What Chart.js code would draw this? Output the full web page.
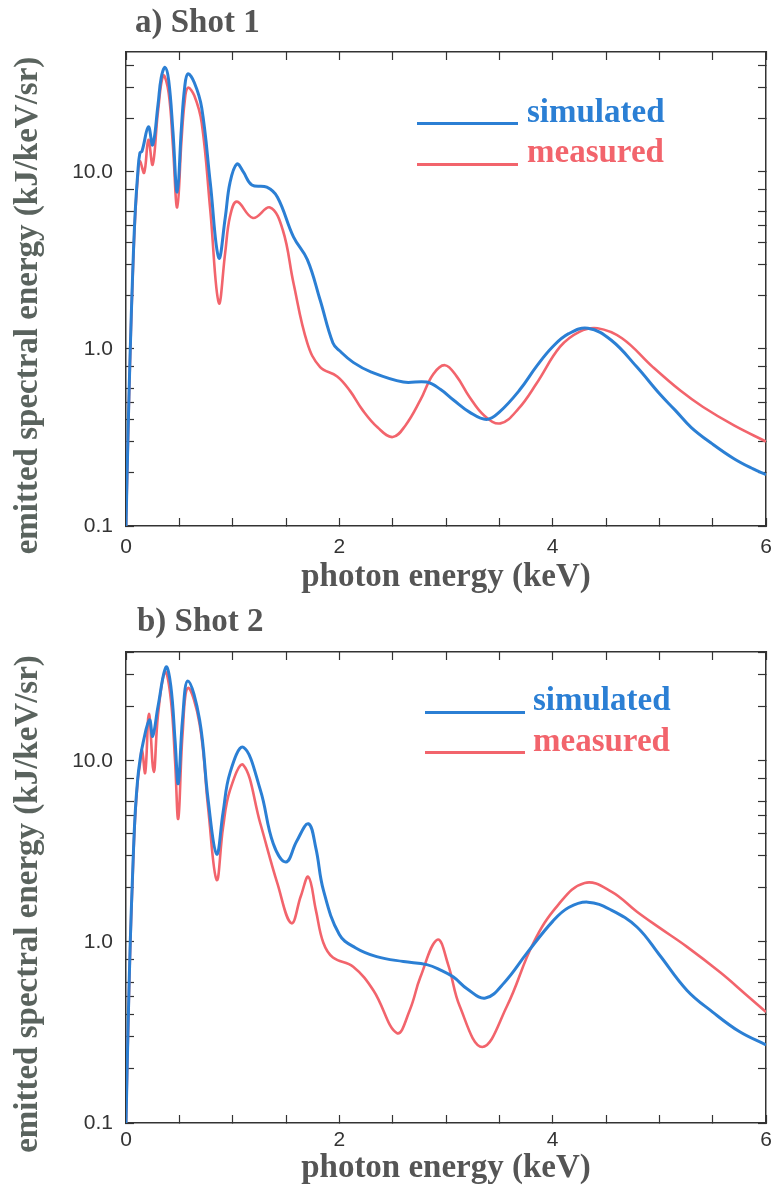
<!DOCTYPE html>
<html>
<head>
<meta charset="utf-8">
<script src="https://cdn.jsdelivr.net/npm/chart.js@4.4.1/dist/chart.umd.min.js"></script>
<style>
  body { margin: 0; background: #fff; }
  #page { position: relative; width: 777px; height: 1192px; overflow: hidden; background: #fff; }
  .box { position: absolute; left: 0; width: 777px; }
  .title { position: absolute; font: bold 33px "Liberation Serif", serif; line-height: 33px; color: #555; white-space: nowrap; }
  .key { position: absolute; font: bold 33px "Liberation Serif", serif; line-height: 33px; white-space: nowrap; }
  .keyline { position: absolute; height: 3px; }
</style>
</head>
<body>
<div id="page">
  <div class="box" style="top:0;height:601px"><canvas id="shot1"></canvas></div>
  <div class="box" style="top:601px;height:591px"><canvas id="shot2"></canvas></div>

  <div class="title" style="left:135px;top:5px">a) Shot 1</div>
  <div class="keyline" style="left:417px;top:122px;width:101px;background:#2b7fd4"></div>
  <div class="key" style="left:527px;top:95px;color:#2b7fd4">simulated</div>
  <div class="keyline" style="left:417px;top:163px;width:101px;background:#f2646c"></div>
  <div class="key" style="left:527px;top:135px;color:#f2646c">measured</div>

  <div class="title" style="left:137px;top:604px">b) Shot 2</div>
  <div class="keyline" style="left:425px;top:711px;width:100px;background:#2b7fd4"></div>
  <div class="key" style="left:533px;top:683px;color:#2b7fd4">simulated</div>
  <div class="keyline" style="left:425px;top:751px;width:100px;background:#f2646c"></div>
  <div class="key" style="left:533px;top:724px;color:#f2646c">measured</div>
</div>
<script>
// photon energy (keV) and emitted spectral energy (kJ/keV/sr)
const shot1SimEnergy = [0, 0.02, 0.04, 0.06, 0.084, 0.11, 0.13, 0.15, 0.21, 0.25, 0.3, 0.33, 0.366, 0.4, 0.44, 0.48, 0.52, 0.55, 0.58, 0.64, 0.71, 0.79, 0.87, 0.93, 0.975, 1.04, 1.1, 1.18, 1.32, 1.42, 1.57, 1.7, 1.82, 1.94, 2.0, 2.13, 2.3, 2.6, 2.82, 2.95, 3.07, 3.22, 3.38, 3.5, 3.69, 3.85, 4.0, 4.15, 4.33, 4.55, 4.79, 5.0, 5.15, 5.3, 5.5, 5.7, 5.88, 6.0];
const shot1SimValue = [0.1, 0.35, 1.0, 2.4, 5.6, 9.8, 12.8, 13.1, 18, 14.2, 24, 34, 39, 33, 17, 7.7, 18, 30, 35.8, 32, 23, 8.7, 3.27, 5.5, 8.7, 11.1, 10.0, 8.45, 8.2, 7.2, 4.3, 3.2, 1.89, 1.08, 0.98, 0.84, 0.74, 0.65, 0.65, 0.59, 0.515, 0.44, 0.40, 0.44, 0.586, 0.8, 1.03, 1.22, 1.31, 1.12, 0.79, 0.56, 0.45, 0.36, 0.29, 0.24, 0.21, 0.195];

const shot1MeasEnergy = [0, 0.02, 0.04, 0.06, 0.084, 0.11, 0.13, 0.17, 0.21, 0.25, 0.3, 0.35, 0.4, 0.44, 0.48, 0.52, 0.55, 0.58, 0.64, 0.71, 0.79, 0.87, 0.93, 0.975, 1.04, 1.19, 1.35, 1.47, 1.57, 1.7, 1.82, 1.98, 2.1, 2.22, 2.36, 2.5, 2.62, 2.76, 2.88, 2.99, 3.1, 3.22, 3.36, 3.51, 3.68, 3.85, 4.07, 4.25, 4.42, 4.65, 4.94, 5.2, 5.41, 5.7, 6.0];
const shot1MeasValue = [0.1, 0.33, 0.95, 2.3, 5.3, 9.3, 11.5, 9.9, 15.2, 11, 22, 35, 28, 14, 6.3, 15, 25, 29.9, 27, 18.9, 6.1, 1.82, 3.5, 5.6, 6.8, 5.5, 6.3, 4.7, 2.36, 1.08, 0.79, 0.70, 0.58, 0.45, 0.36, 0.318, 0.37, 0.515, 0.72, 0.81, 0.7, 0.536, 0.42, 0.38, 0.46, 0.64, 1.03, 1.25, 1.31, 1.15, 0.79, 0.58, 0.47, 0.37, 0.30];

const shot2SimEnergy = [0, 0.02, 0.04, 0.06, 0.084, 0.11, 0.13, 0.16, 0.22, 0.25, 0.3, 0.375, 0.42, 0.46, 0.49, 0.53, 0.58, 0.69, 0.77, 0.85, 0.91, 0.975, 1.1, 1.26, 1.38, 1.5, 1.6, 1.71, 1.78, 1.85, 2.0, 2.15, 2.35, 2.6, 2.82, 2.95, 3.07, 3.2, 3.37, 3.55, 3.76, 4.0, 4.15, 4.33, 4.55, 4.79, 5.0, 5.26, 5.5, 5.75, 6.0];
const shot2SimValue = [0.1, 0.35, 1.0, 2.2, 4.9, 8, 10, 12.6, 16.9, 13.7, 20, 33, 26, 13, 7.5, 17, 27.7, 16.9, 6.1, 3.06, 5.2, 8.6, 11.9, 6.9, 3.5, 2.77, 3.6, 4.5, 3.3, 1.94, 1.1, 0.93, 0.83, 0.78, 0.75, 0.7, 0.64, 0.55, 0.49, 0.6, 0.87, 1.3, 1.55, 1.66, 1.5, 1.21, 0.85, 0.54, 0.41, 0.32, 0.27];

const shot2MeasEnergy = [0, 0.02, 0.04, 0.06, 0.084, 0.11, 0.13, 0.15, 0.18, 0.215, 0.26, 0.3, 0.366, 0.42, 0.46, 0.49, 0.53, 0.58, 0.69, 0.77, 0.85, 0.91, 0.975, 1.1, 1.26, 1.42, 1.55, 1.64, 1.71, 1.78, 1.85, 1.94, 2.13, 2.32, 2.54, 2.66, 2.76, 2.92, 3.02, 3.13, 3.34, 3.57, 3.82, 4.05, 4.3, 4.55, 4.79, 5.0, 5.26, 5.57, 5.8, 6.0];
const shot2MeasValue = [0.1, 0.33, 0.95, 2.1, 4.7, 7.8, 9.5, 11.5, 8.6, 18.2, 8.7, 18, 31, 22, 10, 4.8, 14, 25.3, 16, 5.5, 2.2, 4.3, 6.9, 9.5, 4.5, 2.1, 1.27, 1.8, 2.29, 1.5, 0.99, 0.82, 0.73, 0.54, 0.314, 0.42, 0.64, 1.03, 0.75, 0.44, 0.263, 0.44, 0.99, 1.6, 2.12, 1.9, 1.47, 1.2, 0.94, 0.68, 0.52, 0.41];

const xTicks = [0, 0.5, 1, 1.5, 2, 2.5, 3, 3.5, 4, 4.5, 5, 5.5, 6];
const yTicks = [0.1, 0.2, 0.3, 0.4, 0.5, 0.6, 0.8, 1, 2, 3, 4, 5, 6, 8, 10, 20, 30, 40];
const yLabels = [0.1, 1, 10];

const blue = '#2b7fd4';
const red = '#f2646c';
const ink = '#333';

function points(xs, ys) {
    return xs.map((x, i) => ({ x: x, y: ys[i] }));
}

function frameAxis(pos, len) {
    return {
        position: pos,
        min: 0,
        border: { display: true, color: ink, width: 1.5 },
        grid: { drawOnChartArea: false, drawTicks: true, tickLength: -len, tickColor: ink, tickWidth: 1.2 },
        ticks: { display: false },
    };
}

function makeChart(id, sim, meas, yMax, top, xLabelPad, xHeight) {
    const yList = yTicks.filter(v => v <= yMax);

    const xTop = frameAxis('top', 8);
    xTop.type = 'linear'; xTop.max = 6;
    xTop.afterBuildTicks = s => { s.ticks = xTicks.map(v => ({ value: v })); };
    xTop.afterFit = s => { s.height = 0; s.paddingLeft = 0; s.paddingRight = 0; };

    const yRight = frameAxis('right', 8);
    yRight.type = 'logarithmic'; yRight.min = 0.1; yRight.max = yMax;
    yRight.afterBuildTicks = s => { s.ticks = yList.map(v => ({ value: v })); };
    yRight.afterFit = s => { s.width = 0; s.paddingTop = 0; s.paddingBottom = 0; };

    return new Chart(document.getElementById(id), {
        type: 'line',
        data: {
            datasets: [{
                label: 'simulated',
                data: points(sim[0], sim[1]),
                borderColor: blue,
                borderWidth: 3,
                pointRadius: 0,
                tension: 0.4,
            }, {
                label: 'measured',
                data: points(meas[0], meas[1]),
                borderColor: red,
                borderWidth: 2.6,
                pointRadius: 0,
                tension: 0.4,
            }]
        },
        options: {
            responsive: true,
            maintainAspectRatio: false,
            animation: false,
            layout: { padding: { top: top, right: 11, left: 0, bottom: 0 } },
            plugins: {
                legend: { display: false },
                tooltip: { enabled: false },
            },
            scales: {
                x: {
                    type: 'linear',
                    position: 'bottom',
                    min: 0,
                    max: 6,
                    border: { display: true, color: ink, width: 1.5 },
                    grid: { drawOnChartArea: false, tickLength: -8, tickColor: ink, tickWidth: 1.2 },
                    afterBuildTicks: s => { s.ticks = xTicks.map(v => ({ value: v })); },
                    afterFit: s => { s.height = xHeight; s.paddingLeft = 0; s.paddingRight = 0; },
                    ticks: {
                        autoSkip: false,
                        maxRotation: 0,
                        padding: xLabelPad,
                        color: ink,
                        font: { family: '"Liberation Sans", Arial, sans-serif', size: 21 },
                        callback: v => (v % 2 === 0 ? String(v) : ''),
                    },
                    title: {
                        display: true,
                        text: 'photon energy (keV)',
                        color: '#555',
                        font: { family: '"Liberation Serif", serif', size: 33, weight: 'bold' },
                        padding: { top: 0, bottom: 4 },
                    },
                },
                y: {
                    type: 'logarithmic',
                    position: 'left',
                    min: 0.1,
                    max: yMax,
                    border: { display: true, color: ink, width: 1.5 },
                    grid: { drawOnChartArea: false, tickLength: -8, tickColor: ink, tickWidth: 1.2 },
                    afterBuildTicks: s => { s.ticks = yList.map(v => ({ value: v })); },
                    afterFit: s => { s.width = 126; s.paddingTop = 0; s.paddingBottom = 0; },
                    ticks: {
                        autoSkip: false,
                        padding: 21,
                        color: ink,
                        font: { family: '"Liberation Sans", Arial, sans-serif', size: 21 },
                        callback: v => (yLabels.includes(v) ? v.toFixed(1) : ''),
                    },
                    title: {
                        display: true,
                        // trailing spaces nudge the rotated title down a little, as in the original
                        text: 'emitted spectral energy (kJ/keV/sr)\u00a0\u00a0\u00a0\u00a0',
                        color: '#5a635e',
                        font: { family: '"Liberation Serif", serif', size: 33, weight: 'bold' },
                        padding: { top: 9, bottom: 0 },
                    },
                },
                xTop: xTop,
                yRight: yRight,
            }
        }
    });
}

makeChart('shot1', [shot1SimEnergy, shot1SimValue], [shot1MeasEnergy, shot1MeasValue], 47.6, 52, 17, 75);
makeChart('shot2', [shot2SimEnergy, shot2SimValue], [shot2MeasEnergy, shot2MeasValue], 40, 51, 13, 69);
</script>
</body>
</html>
